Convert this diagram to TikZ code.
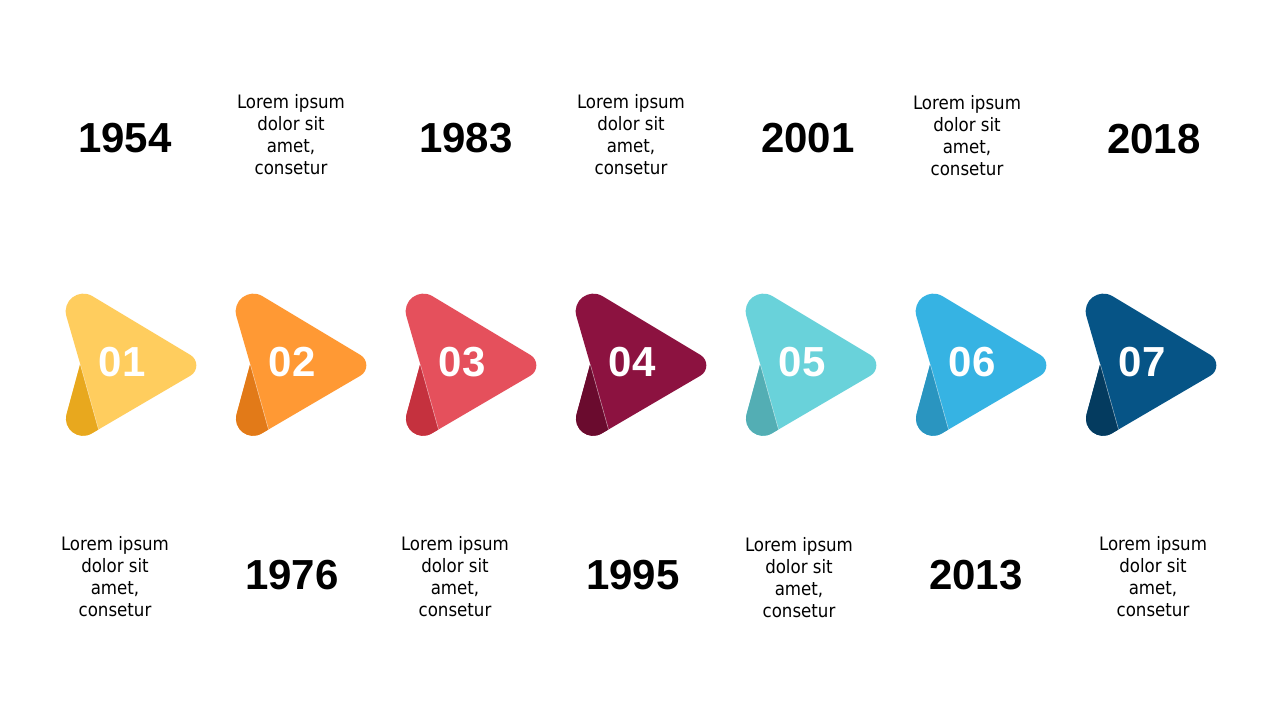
\documentclass[tikz,border=0pt]{standalone}
\usepackage{fontspec}
\setmainfont{Liberation Sans}
\newfontfamily\loremfont{DejaVu Sans Condensed}

\definecolor{tabA}{HTML}{FFCD5E}
\definecolor{tabAd}{HTML}{E8A81E}
\definecolor{tabB}{HTML}{FF9934}
\definecolor{tabBd}{HTML}{E27A18}
\definecolor{tabC}{HTML}{E5505C}
\definecolor{tabCd}{HTML}{C5313E}
\definecolor{tabD}{HTML}{8C1240}
\definecolor{tabDd}{HTML}{6A0B2E}
\definecolor{tabE}{HTML}{69D2DA}
\definecolor{tabEd}{HTML}{53AEB4}
\definecolor{tabF}{HTML}{36B3E3}
\definecolor{tabFd}{HTML}{2A95C0}
\definecolor{tabG}{HTML}{065486}
\definecolor{tabGd}{HTML}{043B5F}

% outline of one folded arrow tab, fold tip at (-1.5,0)
\newcommand{\tabshape}{(-15.3,-47.7) .. controls (-19.8,-63.2) and (-3,-76.1) .. (10.8,-67.8)
  -- (108.8,-9) .. controls (116.6,-4.3) and (116.6,7.1) .. (108.7,11.7)
  -- (10.1,69.4) .. controls (-3.2,77.2) and (-19.1,65) .. (-15.1,50.1)
  -- (-1.5,0) -- cycle}

\tikzset{
  tabnum/.style={text=white, font=\bfseries\fontsize{42}{42}\selectfont, inner sep=0pt},
  yearlabel/.style={font=\bfseries\fontsize{42}{42}\selectfont, inner sep=0pt},
  loremtext/.style={font=\loremfont\fontsize{18.5}{22}\selectfont, align=center, inner sep=0pt}
}

\begin{document}
\begin{tikzpicture}[x=1pt,y=-1pt]
    \fill[white] (0,0) rectangle (1280,720);
    \foreach \i/\lc/\dc in {1/tabA/tabAd,2/tabB/tabBd,3/tabC/tabCd,4/tabD/tabDd,5/tabE/tabEd,6/tabF/tabFd,7/tabG/tabGd} {
        \begin{scope}[shift={({81.7+170*(\i-1)},364)}]
            \fill[\lc] \tabshape;
            \begin{scope}
                \clip \tabshape;
                \fill[\dc] (-1.5,0) -- (54.5,200) -- (-100,200) -- cycle;
                \draw[white, opacity=0.6, line width=0.5pt] (-1.5,0) -- (54.5,200);
            \end{scope}
            \node[tabnum] (num\i) at (40.5,-1.5) {0\i};
        \end{scope}
    }
    \foreach \yr/\x/\y in {1954/125/138,1983/466/138,2001/808/138,2018/1154/139,1976/292/575,1995/633/575,2013/976/575}
        \node[yearlabel] (year\yr) at (\x,\y) {\yr};
    \foreach \n/\x/\y in {a/291/134.5,b/631/134.5,c/967/135.5,d/115/576.5,e/455/576.5,f/799/577.5,g/1153/576.5}
        \node[loremtext] (lorem\n) at (\x,\y) {Lorem ipsum\\dolor sit\\amet,\\consetur};
\end{tikzpicture}
\end{document}
